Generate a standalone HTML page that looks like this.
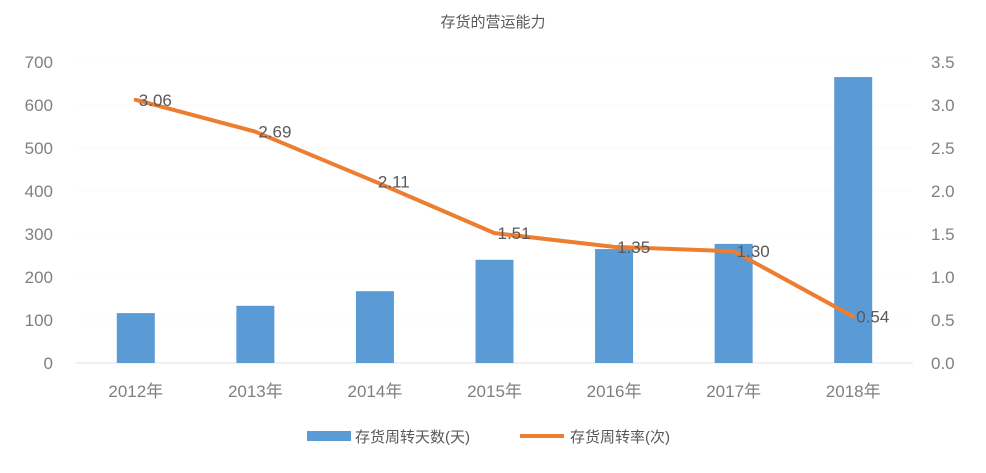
<!DOCTYPE html>
<html><head><meta charset="utf-8"><style>
body{margin:0;background:#fff;}
svg text{font-family:"Liberation Sans","Noto Sans CJK SC",sans-serif;}
</style></head><body>
<svg id="c" width="986" height="468" xmlns="http://www.w3.org/2000/svg"></svg>
<script>
const categories=["2012年","2013年","2014年","2015年","2016年","2017年","2018年"];
const days=[116,133,167,240,265,277,665];
const rate=[3.06,2.69,2.11,1.51,1.35,1.30,0.54];
const leftTicks=[0,100,200,300,400,500,600,700];
const rightTicks=[0,0.5,1,1.5,2,2.5,3,3.5];
const svg=document.getElementById('c');
const NS="http://www.w3.org/2000/svg";
const x0=76,x1=913,yB=363,yT=62;
const band=(x1-x0)/categories.length;
const xc=i=>x0+(i+0.5)*band;
const yL=v=>yB-v/700*(yB-yT);
const yR=v=>yB-v/3.5*(yB-yT);
function mk(t,a,txt){const e=document.createElementNS(NS,t);for(const k in a)e.setAttribute(k,a[k]);if(txt!==undefined)e.textContent=txt;svg.appendChild(e);return e;}
let t=mk('text',{x:493,y:27,'text-anchor':'middle','font-size':15,fill:'#595959'},'存货的营运能力');


leftTicks.forEach(v=>{
 const g=mk('line',{x1:x0,x2:x1,y1:yL(v),y2:yL(v),stroke:v===0?'#e3e3e3':'#fbfbfb','stroke-width':1});
 
 
 const l=mk('text',{x:53,y:yL(v)+6,'text-anchor':'end','font-size':17,fill:'#7f7f7f'},String(v));
 
 
});
rightTicks.forEach(v=>{
 const l=mk('text',{x:931,y:yR(v)+6,'text-anchor':'start','font-size':17,fill:'#7f7f7f'},v.toFixed(1));
 
 
});
categories.forEach((c,i)=>{
 const b=mk('rect',{x:xc(i)-19,y:yL(days[i]),width:38,height:yB-yL(days[i]),fill:'#5b9bd5'});
 
 
 const l=mk('text',{x:xc(i),y:397,'text-anchor':'middle','font-size':17,fill:'#7f7f7f'},c);
 
 
});
const pl=mk('polyline',{points:rate.map((v,i)=>xc(i)+','+yR(v)).join(' '),fill:'none',stroke:'#ed7d31','stroke-width':4,'stroke-linejoin':'round','stroke-linecap':'round'});


rate.forEach((v,i)=>{
 const l=mk('text',{x:xc(i)+3,y:yR(v)+6,'font-size':17,fill:'#595959'},v.toFixed(2));
 
 
});
let r=mk('rect',{x:307,y:431,width:44,height:10,fill:'#5b9bd5'});


let lt=mk('text',{x:355,y:442,'font-size':15,fill:'#595959'},'存货周转天数(天)');


let ll=mk('line',{x1:520,x2:564,y1:436,y2:436,stroke:'#ed7d31','stroke-width':4});


let lt2=mk('text',{x:570,y:442,'font-size':15,fill:'#595959'},'存货周转率(次)');


</script>
</body></html>
